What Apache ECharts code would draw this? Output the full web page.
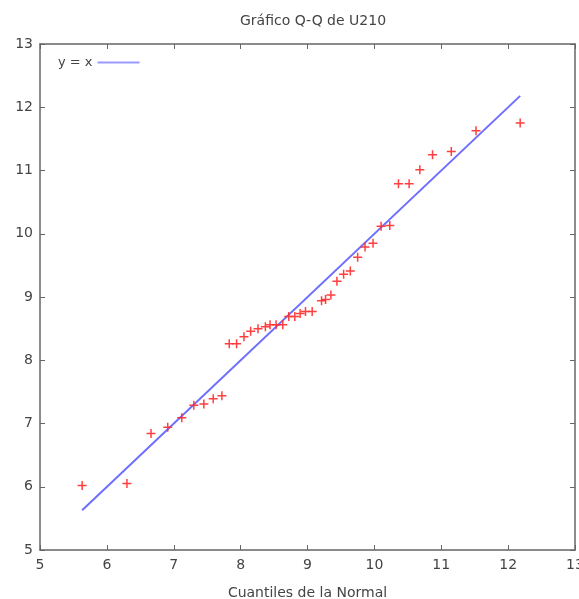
<!DOCTYPE html>
<html>
<head>
<meta charset="utf-8">
<script src="https://cdn.jsdelivr.net/npm/echarts@6/dist/echarts.min.js"></script>
<style>html,body{margin:0;padding:0;background:#fff}#c{width:579px;height:599px}</style>
</head>
<body>
<div id="c"></div>
<script>
var titleText = 'Gráfico Q-Q de U210';
var xName = 'Cuantiles de la Normal';
var lineName = 'y = x';
var normalQuantiles = [5.63, 6.30, 6.66, 6.91, 7.12, 7.30, 7.45, 7.59, 7.72, 7.83, 7.94, 8.05, 8.15, 8.26, 8.37, 8.44, 8.53, 8.63, 8.72, 8.81, 8.89, 8.97, 9.07, 9.21, 9.27, 9.35, 9.44, 9.54, 9.64, 9.75, 9.86, 9.98, 10.10, 10.23, 10.36, 10.52, 10.68, 10.87, 11.15, 11.52, 12.18];
var sampleValues   = [6.02, 6.05, 6.84, 6.94, 7.09, 7.29, 7.31, 7.39, 7.44, 8.26, 8.26, 8.37, 8.46, 8.50, 8.53, 8.56, 8.56, 8.56, 8.69, 8.69, 8.74, 8.77, 8.77, 8.94, 8.96, 9.03, 9.25, 9.36, 9.41, 9.63, 9.79, 9.85, 10.12, 10.13, 10.79, 10.79, 11.01, 11.25, 11.30, 11.63, 11.75];
var lineX = [5.63, 12.18];
var axisMin = 5, axisMax = 13, axisStep = 1;

var points = normalQuantiles.map(function (q, i) { return [q, sampleValues[i]]; });
var linePts = lineX.map(function (v) { return [v, v]; });

var font = 'DejaVu Sans';
var txt = '#444';
function axisBase(show) {
  return {
    type: 'value', min: axisMin, max: axisMax, interval: axisStep,
    axisLine: { show: true, onZero: false, lineStyle: { color: '#666', width: 1.5 } },
    axisTick: { show: true, inside: true, length: 5, lineStyle: { color: '#666' } },
    splitLine: { show: false },
    axisLabel: { show: show, color: txt, fontFamily: font, fontSize: 14, margin: 8 }
  };
}
var xa1 = axisBase(true); xa1.position = 'bottom';
xa1.name = xName; xa1.nameLocation = 'middle'; xa1.nameGap = 36;
xa1.nameTextStyle = { color: txt, fontFamily: font, fontSize: 14 };
var xa2 = axisBase(false); xa2.position = 'top';
var ya1 = axisBase(true); ya1.position = 'left'; ya1.axisLabel.margin = 7;
var ya2 = axisBase(false); ya2.position = 'right';

var chart = echarts.init(document.getElementById('c'));
chart.setOption({
  animation: false,
  backgroundColor: '#fff',
  title: { text: titleText, left: 308, textAlign: 'center', top: 9,
    textStyle: { color: txt, fontFamily: font, fontSize: 14, fontWeight: 'normal' } },
  grid: { left: 40, right: 4, top: 44, bottom: 49, containLabel: false, outerBoundsMode: 'none' },
  legend: { show: true, left: 53, top: 51, align: 'right', icon: 'rect', itemWidth: 42, itemHeight: 2,
    itemStyle: { color: '#9a9aff' },
    data: [lineName], textStyle: { color: txt, fontFamily: font, fontSize: 13 } },
  xAxis: [xa1, xa2],
  yAxis: [ya1, ya2],
  series: [
    { type: 'scatter', name: 'data', data: points, xAxisIndex: 0, yAxisIndex: 0,
      symbol: 'path://M3.75,0H5.25V3.75H9V5.25H5.25V9H3.75V5.25H0V3.75H3.75Z', symbolSize: 9,
      itemStyle: { color: '#ff2a2a', opacity: 0.9 }, z: 3 },
    { type: 'line', name: lineName, data: linePts, xAxisIndex: 0, yAxisIndex: 0,
      showSymbol: false, symbol: 'none', lineStyle: { color: '#6e6eff', width: 2 },
      itemStyle: { color: '#6e6eff' }, z: 2 }
  ]
});
</script>
</body>
</html>
